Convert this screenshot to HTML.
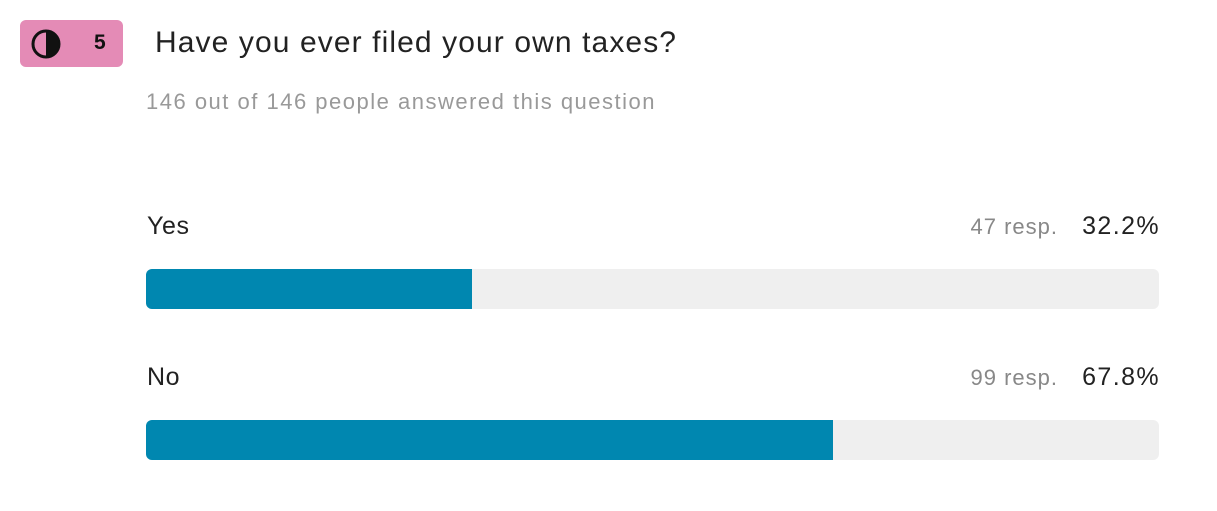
<!DOCTYPE html>
<html><head><meta charset="utf-8"><style>
body{margin:0;width:1217px;height:511px;background:#fff;font-family:"Liberation Sans",sans-serif;position:relative;overflow:hidden}
.abs{position:absolute}
.badge{left:20px;top:20px;width:103px;height:47px;background:#e48bb6;border-radius:6px}
.title{left:155px;top:26px;font-size:30px;letter-spacing:1.1px;color:#222;white-space:nowrap}
.sub{left:146px;top:89px;font-size:22px;letter-spacing:1.5px;color:#999;white-space:nowrap}
.lbl{font-size:25px;letter-spacing:0.6px;color:#222;white-space:nowrap}
.resp{font-size:22px;letter-spacing:1px;color:#888;white-space:nowrap;text-align:right}
.pct{font-size:25px;letter-spacing:1.4px;color:#222;white-space:nowrap;text-align:right}
.track{background:#efefef;border-radius:6px;overflow:hidden}
.fill{background:#0087b0;height:100%}
</style></head><body>
<div class="abs badge">
<svg class="abs" style="left:11px;top:9px" width="30" height="30"><circle cx="15" cy="15" r="13" fill="none" stroke="#111" stroke-width="3"/><path d="M15 2 A13 13 0 0 1 15 28 Z" fill="#111"/></svg>
<div class="abs" style="left:74px;top:11px;font-size:21px;font-weight:bold;color:#111">5</div>
</div>
<div class="abs title">Have you ever filed your own taxes?</div>
<div class="abs sub">146 out of 146 people answered this question</div>
<div id="chart"></div>
<script>
const categories=["Yes","No"];
const counts=[47,99];
const percents=[32.2,67.8];
const chart=document.getElementById('chart');
const X0=146,W=1013;
function xScale(p){return W*p/100;}
categories.forEach((c,i)=>{
  const top=212+i*151;
  const l=document.createElement('div');l.className='abs lbl';l.style.left='147px';l.style.top=top+'px';l.textContent=c;
  
  
  chart.appendChild(l);
  const r=document.createElement('div');r.className='abs resp';r.style.right=(1217-1058)+'px';r.style.top=(top+2)+'px';r.textContent=counts[i]+' resp.';
  
  
  chart.appendChild(r);
  const p=document.createElement('div');p.className='abs pct';p.style.right=(1217-1160)+'px';p.style.top=top+'px';p.textContent=percents[i].toFixed(1)+'%';
  
  
  chart.appendChild(p);
  const t=document.createElement('div');t.className='abs track';t.style.left=X0+'px';t.style.top=(269+i*151)+'px';t.style.width=W+'px';t.style.height='40px';
  
  
  const f=document.createElement('div');f.className='fill';f.style.width=xScale(percents[i])+'px';
  
  
  t.appendChild(f);chart.appendChild(t);
});
</script>
</body></html>
